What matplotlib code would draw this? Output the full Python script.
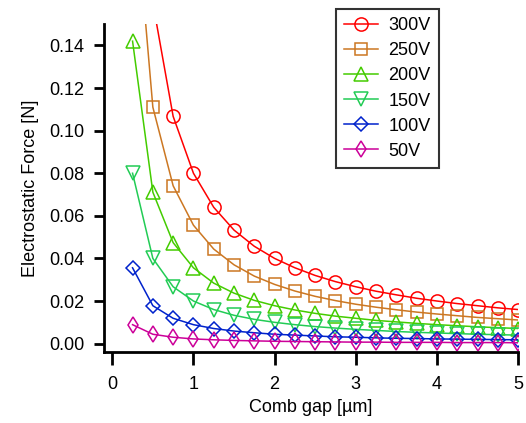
import numpy as np
import matplotlib.pyplot as plt

plt.rcParams['font.family'] = ['Liberation Sans', 'DejaVu Sans']

gap = [0.25, 0.5, 0.75, 1.0, 1.25, 1.5, 1.75, 2.0, 2.25, 2.5,
       2.75, 3.0, 3.25, 3.5, 3.75, 4.0, 4.25, 4.5, 4.75, 5.0]

f300 = [0.320, 0.160, 0.1067, 0.0800, 0.0640, 0.0533, 0.0457, 0.0400, 0.0356, 0.0320,
        0.0291, 0.0267, 0.0246, 0.0229, 0.0213, 0.0200, 0.0188, 0.0178, 0.0168, 0.0160]
f250 = [0.222, 0.111, 0.0741, 0.0556, 0.0444, 0.0370, 0.0317, 0.0278, 0.0247, 0.0222,
        0.0202, 0.0185, 0.0171, 0.0159, 0.0148, 0.0139, 0.0131, 0.0123, 0.0117, 0.0111]
f200 = [0.142, 0.0711, 0.0474, 0.0356, 0.0284, 0.0237, 0.0203, 0.0178, 0.0158, 0.0142,
        0.0129, 0.0119, 0.0109, 0.0102, 0.0095, 0.0089, 0.0084, 0.0079, 0.0075, 0.0071]
f150 = [0.0800, 0.0400, 0.0267, 0.0200, 0.0160, 0.0133, 0.0114, 0.0100, 0.0089, 0.0080,
        0.0073, 0.0067, 0.0062, 0.0057, 0.0053, 0.0050, 0.0047, 0.0044, 0.0042, 0.0040]
f100 = [0.0356, 0.0178, 0.0119, 0.0089, 0.0071, 0.0059, 0.0051, 0.0044, 0.0040, 0.0036,
        0.0032, 0.0030, 0.0027, 0.0025, 0.0024, 0.0022, 0.0021, 0.0020, 0.0019, 0.0018]
f50 = [0.0089, 0.0044, 0.0030, 0.0022, 0.0018, 0.0015, 0.0013, 0.0011, 0.0010, 0.0009,
       0.0008, 0.0007, 0.0007, 0.0006, 0.0006, 0.0006, 0.0005, 0.0005, 0.0005, 0.0004]

labels = ['300V', '250V', '200V', '150V', '100V', '50V']
series = [f300, f250, f200, f150, f100, f50]
colors = ['#ff0000', '#cc7722', '#44cc00', '#22cc55', '#0022cc', '#cc0099']
markers = ['o', 's', '^', 'v', 'D', 'd']
msizes = [9.5, 8.5, 9.5, 9.5, 7.5, 8.5]

fig = plt.figure(figsize=(5.26, 4.23), dpi=100)
ax = fig.add_axes([0.198, 0.168, 0.787, 0.775])

for y, lab, c, m, ms in zip(series, labels, colors, markers, msizes):
    ax.plot(gap, y, color=c, lw=1.1, marker=m, ms=ms, mfc='none',
            mec=c, mew=1.1, label=lab)

ax.set_xlim(-0.1, 5.0)
ax.set_ylim(-0.0039, 0.15)
ax.set_xticks([0, 1, 2, 3, 4, 5])
ax.set_yticks(np.arange(0, 0.141, 0.02))
ax.set_yticklabels(['0.00', '0.02', '0.04', '0.06', '0.08', '0.10', '0.12', '0.14'])

for s in ['top', 'right']:
    ax.spines[s].set_visible(False)
for s in ['left', 'bottom']:
    ax.spines[s].set_linewidth(2)
ax.tick_params(axis='x', direction='out', width=2, length=9, labelsize=13, pad=8)
ax.tick_params(axis='y', direction='out', width=2, length=7.5, labelsize=13, pad=7)

ax.set_xlabel('Comb gap [µm]', fontsize=13, labelpad=5)
ax.set_ylabel('Electrostatic Force [N]', fontsize=13, labelpad=7)

leg = ax.legend(loc='upper left', bbox_to_anchor=(336 / 526, 1 - 9 / 423),
                bbox_transform=fig.transFigure, fontsize=13, frameon=True,
                fancybox=False, handlelength=1.9, handletextpad=0.55,
                labelspacing=0.45, borderpad=0.45, borderaxespad=0)
leg.get_frame().set_edgecolor('black')
leg.get_frame().set_linewidth(1.5)

fig.savefig('out.png', dpi=100)
